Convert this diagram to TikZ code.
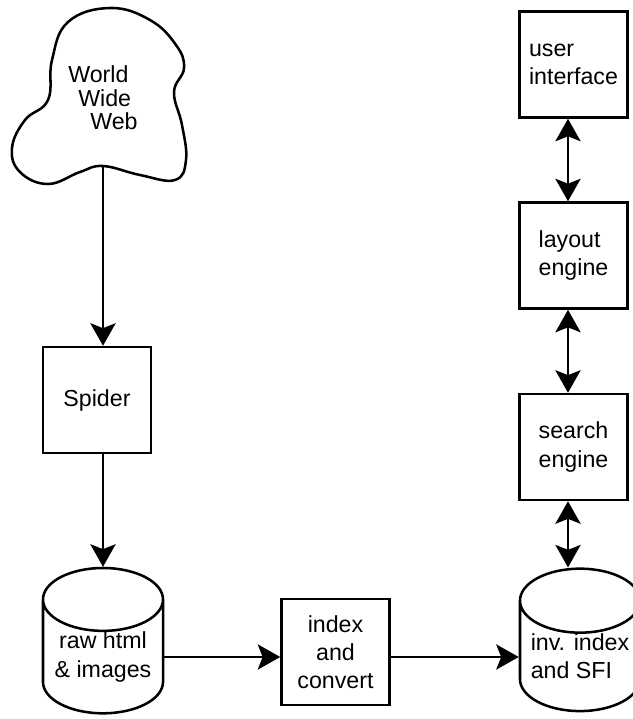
\documentclass[tikz,border=0pt]{standalone}
\usepackage{fontspec}
\setmainfont{Liberation Sans}
\usetikzlibrary{arrows.meta,shapes.geometric}

\begin{document}
\begin{tikzpicture}[x=0.025cm, y=-0.025cm, every node/.append style={text=black, font=\fontsize{16.5}{20}\selectfont},
	box/.style={draw=black, line width=1.8pt, minimum width=2.7cm, minimum height=2.65cm, inner sep=0},
	disk/.style={draw=black, line width=1.8pt, cylinder, shape border rotate=90, aspect=0.65, minimum width=3cm, minimum height=3cm, inner sep=0},
	link/.style={line width=1.3pt, -{Stealth[length=16pt, width=18pt, inset=3.5pt]}},
	dlink/.style={line width=1.3pt, {Stealth[length=16pt, width=18pt, inset=3.5pt]}-{Stealth[length=16pt, width=18pt, inset=3.5pt]}}]
	\useasboundingbox (0,0) rectangle (633,719);

	% the web as a cloud
	\draw[line width=1.8pt] plot[smooth cycle, tension=0.7] coordinates {(110,8) (150,20) (176,45) (184,68) (174,92) (182,125) (186,160) (175,180) (140,175) (103,166) (80,172) (48,184) (20,172) (12,148) (25,120) (48,100) (52,60) (68,22)};
	\node[anchor=north west, inner sep=0, align=left, font=\fontsize{16.5}{17}\selectfont] (www) at (68,65) {World\\\hspace*{0.25cm}Wide\\\hspace*{0.55cm}Web};
	\coordinate (wwwfoot) at (103,166);

	\node[box] (spider) at (97,400) {Spider};
	\node[disk, align=center] (raw) at (103,657) {raw html\\\& images};
	\node[box, align=center] (conv) at (335.5,652) {index\\and\\convert};
	\node[disk, align=left] (inv) at (580,656.5) {inv. index\\and SFI};

	\foreach \n/\y/\t in {ui/64.5/{user\\interface}, layout/255.5/{layout\\engine}, search/447/{search\\engine}}
	{
		\node[box, align=left] (\n) at (573.5,\y) {\t};
	}

	\coordinate (axis) at (568,0);
	\draw[link] (wwwfoot) -- (wwwfoot |- spider.north);
	\draw[link] (spider.south -| wwwfoot) -- (wwwfoot |- raw.north);
	\draw[link] (raw.east) -- (raw.east -| conv.west);
	\draw[link] (raw.east -| conv.east) -- (raw.east -| inv.west);

	\foreach \a/\b in {ui/layout, layout/search, search/inv}
	{
		\draw[dlink] (\a.south -| axis) -- (\b.north -| axis);
	}
\end{tikzpicture}
\end{document}
